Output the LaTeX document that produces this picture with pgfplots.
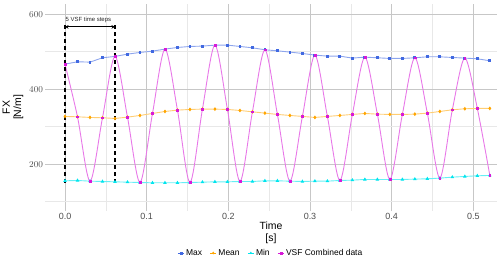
\documentclass[border=0pt]{standalone}
\usepackage{pgfplots}
\usepackage{pgfplotstable}
\pgfplotsset{compat=1.18}
\usepackage{fontspec}
\setmainfont{Liberation Sans}
\usetikzlibrary{arrows.meta}
\definecolor{maxc}{RGB}{65,105,225}
\definecolor{meanc}{RGB}{255,165,0}
\definecolor{minc}{RGB}{0,229,238}
\definecolor{vsfl}{RGB}{232,120,232}
\definecolor{vsfm}{RGB}{215,25,215}
\definecolor{tickgray}{RGB}{77,77,77}

\pgfplotstableread{
t      max    mean   min    vsf
0      466.7  327.2  155.5  466.7
0.0153 472.9  326.2  156.4  326.2
0.0306 472.0  324.5  154.6  154.6
0.0459 483.6  323.6  153.7  323.6
0.0612 487.2  321.8  152.8  487.2
0.0765 493.3  325.3  151.9  325.3
0.0918 497.8  329.8  151.0  151.0
0.1071 501.3  335.1  150.2  335.1
0.1224 506.7  340.4  150.2  506.7
0.1377 511.1  344.0  150.2  344.0
0.1530 513.8  345.8  151.0  151.0
0.1683 514.7  346.7  151.9  346.7
0.1836 517.3  346.7  152.8  517.3
0.1989 517.3  345.8  152.8  345.8
0.2142 513.8  343.1  153.7  153.7
0.2295 510.2  339.5  153.7  339.5
0.2448 504.9  336.0  155.5  504.9
0.2601 502.2  332.5  155.5  332.5
0.2754 498.7  329.8  154.6  154.6
0.2907 495.1  327.2  153.7  327.2
0.3060 490.7  324.5  154.6  490.7
0.3213 488.0  327.2  154.6  327.2
0.3366 488.0  329.8  156.4  156.4
0.3519 482.7  332.5  157.3  332.5
0.3672 485.3  335.1  159.1  485.3
0.3825 483.6  333.3  159.1  333.3
0.3978 481.8  332.5  159.1  159.1
0.4131 481.8  332.5  159.1  332.5
0.4284 483.6  333.3  160.0  483.6
0.4437 486.2  336.0  160.9  336.0
0.4590 486.2  340.4  162.7  162.7
0.4743 484.4  344.9  165.3  344.9
0.4896 482.7  347.6  167.1  482.7
0.5049 480.9  348.5  168.9  348.5
0.5202 475.6  348.5  169.8  169.8
}\datatable

\begin{document}
\begin{tikzpicture}
\path[use as bounding box] (-45bp,-53bp) rectangle (455bp,211bp);
\begin{axis}[
  at={(0,0)}, anchor=south west,
  scale only axis, width=452bp, height=207bp,
  xmin=-0.0245, xmax=0.529, ymin=75, ymax=627,
  xtick={0,0.1,0.2,0.3,0.4,0.5},
  xticklabels={0.0,0.1,0.2,0.3,0.4,0.5},
  minor xtick={0.05,0.15,0.25,0.35,0.45},
  ytick={200,400,600}, minor ytick={100,300,500},
  grid=both,
  major grid style={draw=black!22, line width=0.8bp},
  minor grid style={draw=black!9, line width=0.5bp},
  axis line style={draw=none},
  major tick length=0pt, minor tick length=0pt,
  tick label style={font=\fontsize{9}{10}\selectfont, text=tickgray},
  xticklabel style={yshift=1bp},
  yticklabel style={xshift=1.5bp},
  xlabel={Time\\{[s]}},
  ylabel={FX\\{[N/m]}},
  every axis x label/.style={at={(axis description cs:0.5,0)}, yshift=-22bp, anchor=center, align=center, font=\fontsize{10.5}{11.5}\selectfont},
  every axis y label/.style={at={(axis description cs:0,0.5)}, xshift=-32bp, rotate=90, anchor=center, align=center, font=\fontsize{10.5}{11.5}\selectfont},
  legend columns=4,
  legend style={at={(axis description cs:0.5,0)}, yshift=-42bp, anchor=center, draw=none, fill=none,
     font=\fontsize{8.5}{9}\selectfont, inner sep=0pt,
     /tikz/every even column/.append style={column sep=6bp}},
  legend image code/.code={\path (0bp,0bp) -- (6bp,0bp); \draw[#1] plot coordinates {(3bp,0bp)};},
]
\addlegendimage{only marks, mark=square*, mark size=0.9bp, color=maxc}
\addlegendentry{Max}
\addlegendimage{only marks, mark=diamond*, mark size=1.1bp, color=meanc}
\addlegendentry{Mean}
\addlegendimage{only marks, mark=triangle*, mark size=1.1bp, color=minc}
\addlegendentry{Min}
\addlegendimage{only marks, mark=square*, mark size=0.9bp, color=vsfm}
\addlegendentry{VSF Combined data}

\addplot[forget plot, draw=maxc!60, line width=0.9bp, mark=square*, mark size=0.95bp,
  mark options={draw=maxc, fill=maxc}] table[x=t, y=max] {\datatable};
\addplot[forget plot, draw=meanc!55, line width=0.9bp, mark=diamond*, mark size=1.2bp,
  mark options={draw=meanc, fill=meanc}] table[x=t, y=mean] {\datatable};
\addplot[forget plot, draw=minc!60, line width=0.9bp, mark=triangle*, mark size=1.2bp,
  mark options={draw=minc, fill=minc}] table[x=t, y=min] {\datatable};

\addplot[forget plot, draw=vsfl, line width=0.9bp, smooth, no marks] table[x=t, y=vsf] {\datatable};
\addplot[forget plot, only marks, mark=square*, mark size=0.85bp, color=vsfm] table[x=t, y=vsf] {\datatable};

\draw[black, line width=1.3bp, dash pattern=on 4bp off 3bp] (axis cs:0,150) -- (axis cs:0,570);
\draw[black, line width=1.3bp, dash pattern=on 4bp off 3bp] (axis cs:0.0612,150) -- (axis cs:0.0612,570);
\draw[black, line width=1bp, {Stealth[length=3.5bp,width=3.5bp]}-{Stealth[length=3.5bp,width=3.5bp]}] (axis cs:0,566) -- (axis cs:0.0612,566);
\node[anchor=west, inner sep=0pt, font=\fontsize{6}{7}\selectfont, text=black!85] at (axis cs:0.0005,585) {5 VSF time steps};
\end{axis}
\end{tikzpicture}
\end{document}
